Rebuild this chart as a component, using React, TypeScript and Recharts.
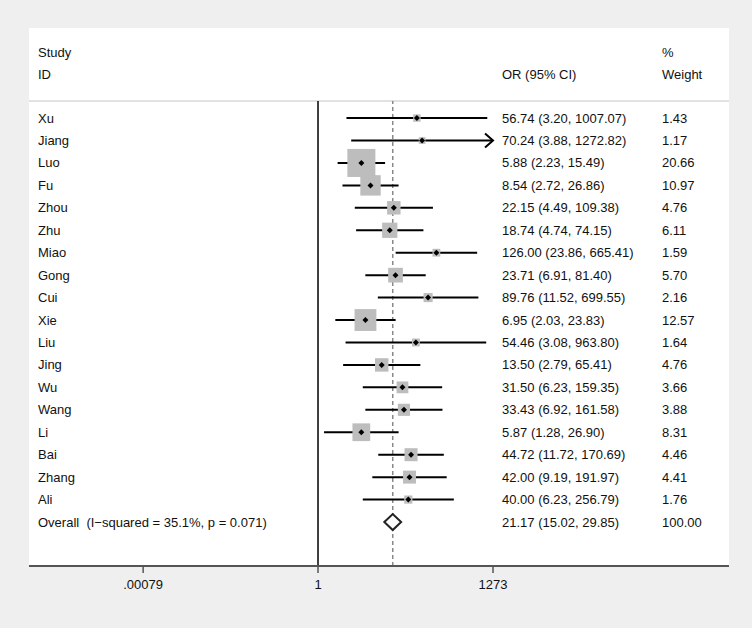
import React from "react";
import { ScatterChart, Scatter, XAxis, YAxis, ReferenceLine } from "recharts";

const studies = ["Xu", "Jiang", "Luo", "Fu", "Zhou", "Zhu", "Miao", "Gong", "Cui", "Xie", "Liu", "Jing", "Wu", "Wang", "Li", "Bai", "Zhang", "Ali"];
const oddsRatios = [56.74, 70.24, 5.88, 8.54, 22.15, 18.74, 126.0, 23.71, 89.76, 6.95, 54.46, 13.5, 31.5, 33.43, 5.87, 44.72, 42.0, 40.0];
const lowerCI = [3.2, 3.88, 2.23, 2.72, 4.49, 4.74, 23.86, 6.91, 11.52, 2.03, 3.08, 2.79, 6.23, 6.92, 1.28, 11.72, 9.19, 6.23];
const upperCI = [1007.07, 1272.82, 15.49, 26.86, 109.38, 74.15, 665.41, 81.4, 699.55, 23.83, 963.8, 65.41, 159.35, 161.58, 26.9, 170.69, 191.97, 256.79];
const weights = [1.43, 1.17, 20.66, 10.97, 4.76, 6.11, 1.59, 5.7, 2.16, 12.57, 1.64, 4.76, 3.66, 3.88, 8.31, 4.46, 4.41, 1.76];

const overallOR = 21.17;
const overallLo = 15.02;
const overallHi = 29.85;
const overallLabel = "Overall  (I\u2212squared = 35.1%, p = 0.071)";

const xTicks = [0.00079, 1, 1273];
const xTickLabels = [".00079", "1", "1273"];

const fmt = (v: number) => v.toFixed(2);

const rows = studies.map((name, i) => ({
  name,
  row: i,
  or: oddsRatios[i],
  lo: lowerCI[i],
  hi: upperCI[i],
  w: weights[i],
  ci: `${fmt(oddsRatios[i])} (${fmt(lowerCI[i])}, ${fmt(upperCI[i])})`,
  wt: fmt(weights[i]),
}));
const overallRow = studies.length;
const overallData = [
  {
    name: overallLabel,
    row: overallRow,
    or: overallOR,
    ci: `${fmt(overallOR)} (${fmt(overallLo)}, ${fmt(overallHi)})`,
    wt: "100.00",
  },
];

const FONT = "'Liberation Sans', Arial, Helvetica, sans-serif";

function RowText({ cy, p }: { cy: number; p: any }) {
  const common = { y: cy, fontSize: 13, fill: "#111", fontFamily: FONT, dominantBaseline: "central" as const };
  return (
    <g>
      <text x={38} {...common} style={{ whiteSpace: "pre" }}>{p.name}</text>
      <text x={502} {...common}>{p.ci}</text>
      <text x={662} {...common}>{p.wt}</text>
    </g>
  );
}

function StudyMark(props: any) {
  const { cx, cy, payload } = props;
  const s = 6.16 * Math.sqrt(payload.w);
  const d = 3;
  return (
    <g>
      <rect x={cx - s / 2} y={cy - s / 2} width={s} height={s} fill="#bdbdbd" />
      <polygon points={`${cx - d},${cy} ${cx},${cy - d} ${cx + d},${cy} ${cx},${cy + d}`} fill="#000" />
      <RowText cy={cy} p={payload} />
    </g>
  );
}

function OverallText(props: any) {
  return <RowText cy={props.cy} p={props.payload} />;
}

function CiLine(props: any) {
  const { x1, y1, x2, y2, arrow } = props;
  return (
    <g>
      <line x1={x1} y1={y1} x2={x2} y2={y2} stroke="#000" strokeWidth={2} />
      {arrow && (
        <polyline points={`${x2 - 8},${y2 - 7} ${x2},${y2} ${x2 - 8},${y2 + 7}`} fill="none" stroke="#000" strokeWidth={2} />
      )}
    </g>
  );
}

function Diamond(props: any) {
  const { x1, y1, x2 } = props;
  const mid = (x1 + x2) / 2;
  const h = 8;
  return (
    <polygon
      points={`${x1},${y1} ${mid},${y1 - h} ${x2},${y1} ${mid},${y1 + h}`}
      fill="#fff"
      stroke="#222"
      strokeWidth={2}
    />
  );
}

export default function App() {
  return (
    <div style={{ position: "absolute", left: 0, top: 0, width: 752, height: 628, background: "#efefef", fontFamily: FONT }}>
      <div style={{ position: "absolute", left: 29, top: 28, width: 700, height: 538, background: "#fff" }} />
      <div style={{ position: "absolute", left: 29, top: 100, width: 700, height: 2, background: "#e2e2e2" }} />
      <svg width={752} height={100} style={{ position: "absolute", left: 0, top: 0 }}>
        <g fontSize={13} fill="#111" fontFamily={FONT} dominantBaseline="central">
          <text x={38} y={52}>Study</text>
          <text x={38} y={74}>ID</text>
          <text x={502} y={74}>OR (95% CI)</text>
          <text x={662} y={52}>%</text>
          <text x={662} y={74}>Weight</text>
        </g>
      </svg>
      <div style={{ position: "absolute", left: 0, top: 0 }}>
        <ScatterChart width={752} height={628} margin={{ top: 101, right: 23, bottom: 32, left: 29 }}>
          <XAxis
            type="number"
            dataKey="or"
            scale="log"
            domain={[7.46e-6, 1.956e7]}
            allowDataOverflow
            ticks={xTicks}
            tickFormatter={(v: number) => xTickLabels[xTicks.indexOf(v)] ?? String(v)}
            height={30}
            tickSize={7}
            tickMargin={7}
            axisLine={{ stroke: "#555", strokeWidth: 2 }}
            tickLine={{ stroke: "#555", strokeWidth: 1.5 }}
            tick={{ fontSize: 13, fill: "#111", fontFamily: FONT }}
          />
          <YAxis type="number" dataKey="row" domain={[-0.76, 19.96]} reversed hide />
          <ReferenceLine x={1} stroke="#000" strokeWidth={1.5} />
          <ReferenceLine x={overallOR} stroke="#888" strokeWidth={1.5} strokeDasharray="4 3" />
          <Scatter data={rows} isAnimationActive={false} shape={<StudyMark />} />
          <Scatter data={overallData} isAnimationActive={false} shape={<OverallText />} />
          {rows.map((r) => (
            <ReferenceLine
              key={r.name}
              segment={[{ x: r.lo, y: r.row }, { x: r.hi, y: r.row }]}
              shape={(p: any) => <CiLine {...p} arrow={r.hi >= xTicks[2] * 0.99} />}
            />
          ))}
          <ReferenceLine
            segment={[{ x: overallLo, y: overallRow }, { x: overallHi, y: overallRow }]}
            shape={(p: any) => <Diamond {...p} />}
          />
        </ScatterChart>
      </div>
    </div>
  );
}
